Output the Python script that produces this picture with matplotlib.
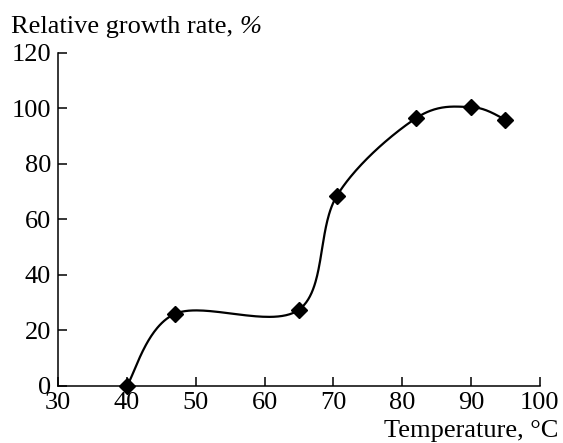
import numpy as np
import matplotlib
matplotlib.use('Agg')
import matplotlib.pyplot as plt

temperature = [40, 47, 65, 70.5, 82, 90, 95]
growth_rate = [0, 26, 27.5, 68.5, 96.5, 100.5, 96]

x_ticks = [30, 40, 50, 60, 70, 80, 90, 100]
y_ticks = [0, 20, 40, 60, 80, 100, 120]

plt.rcParams['font.family'] = 'Liberation Serif'


def smooth(xs, ys, n=60):
    # bezier smoothing like a spreadsheet "smoothed line"
    p = np.column_stack([xs, ys]).astype(float)
    pts = []
    for i in range(len(p) - 1):
        p0 = p[i - 1] if i > 0 else p[i]
        p1, p2 = p[i], p[i + 1]
        p3 = p[i + 2] if i + 2 < len(p) else p[i + 1]
        c1 = p1 + (p2 - p0) / 6
        c2 = p2 - (p3 - p1) / 6
        t = np.linspace(0, 1, n)[:, None]
        seg = ((1 - t) ** 3 * p1 + 3 * (1 - t) ** 2 * t * c1
               + 3 * (1 - t) * t ** 2 * c2 + t ** 3 * p2)
        pts.append(seg)
    pts = np.vstack(pts)
    return pts[:, 0], pts[:, 1]


fig = plt.figure(figsize=(5.63, 4.43), dpi=100)
ax = fig.add_axes([0.103, 0.1287, 0.856, 0.7517])

sx, sy = smooth(temperature, growth_rate)
ax.plot(sx, sy, color='black', linewidth=1.6, zorder=2)
ax.plot(temperature, growth_rate, linestyle='none', marker='D',
        markersize=8, color='black', zorder=3, clip_on=False)

ax.set_xlim(30, 100)
ax.set_ylim(0, 120)
ax.set_xticks(x_ticks)
ax.set_yticks(y_ticks)
ax.spines['top'].set_visible(False)
ax.spines['right'].set_visible(False)
for s in ('left', 'bottom'):
    ax.spines[s].set_linewidth(1.1)
ax.tick_params(direction='in', length=6.5, width=1.1, labelsize=19)
ax.tick_params(axis='y', pad=5)
ax.tick_params(axis='x', pad=4)

# y label: upright text followed by an italic percent sign
lab = fig.text(0.019, 0.9255, 'Relative growth rate, ', fontsize=19,
               ha='left', va='baseline')
r = fig.canvas.get_renderer()
bb = lab.get_window_extent(renderer=r)
fig.text(bb.x1 / fig.bbox.width, 0.9255, '%', fontsize=19, style='italic',
         ha='left', va='baseline')

fig.text(0.991, 0.0135, 'Temperature, °C', fontsize=19, ha='right',
         va='baseline')

fig.savefig('out.png', dpi=100)
